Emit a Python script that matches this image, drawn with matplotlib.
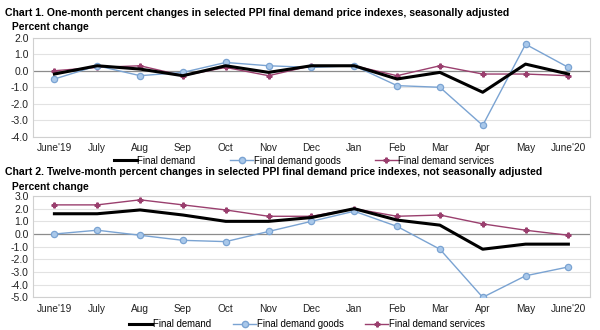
import matplotlib
matplotlib.use("Agg")
import matplotlib.pyplot as plt
from matplotlib.lines import Line2D

plt.rcParams['font.family'] = ['Liberation Sans', 'DejaVu Sans']

months = ["June'19", "July", "Aug", "Sep", "Oct", "Nov", "Dec",
          "Jan", "Feb", "Mar", "Apr", "May", "June'20"]

# Chart 1: one-month percent changes, seasonally adjusted
m_final = [-0.2, 0.3, 0.1, -0.3, 0.3, -0.1, 0.3, 0.3, -0.5, -0.1, -1.3, 0.4, -0.2]
m_goods = [-0.5, 0.3, -0.3, -0.1, 0.5, 0.3, 0.2, 0.3, -0.9, -1.0, -3.3, 1.6, 0.2]
m_services = [0.0, 0.2, 0.3, -0.3, 0.2, -0.3, 0.3, 0.3, -0.3, 0.3, -0.2, -0.2, -0.3]

# Chart 2: twelve-month percent changes, not seasonally adjusted
y_final = [1.6, 1.6, 1.9, 1.5, 1.0, 1.0, 1.3, 2.0, 1.1, 0.7, -1.2, -0.8, -0.8]
y_goods = [0.0, 0.3, -0.1, -0.5, -0.6, 0.2, 1.0, 1.8, 0.6, -1.2, -5.0, -3.3, -2.6]
y_services = [2.3, 2.3, 2.7, 2.3, 1.9, 1.4, 1.4, 2.0, 1.4, 1.5, 0.8, 0.3, -0.1]

series_names = ["Final demand", "Final demand goods", "Final demand services"]
c_black = "#000000"
c_blue = "#7AA3D2"
c_blue_fill = "#A9C8EA"
c_purple = "#9A3F6E"

fig = plt.figure(figsize=(6.0, 3.3), dpi=100)


def draw_panel(ax, final, goods, services, ylo, yhi):
    x = list(range(len(months)))
    ax.plot(x, services, color=c_purple, lw=1.0, marker='P', ms=3.5,
            mfc=c_purple, mec=c_purple, zorder=3)
    ax.plot(x, goods, color=c_blue, lw=1.0, marker='o', ms=4.5,
            mfc=c_blue_fill, mec=c_blue, mew=0.9, zorder=4)
    ax.plot(x, final, color=c_black, lw=2.2, zorder=5)
    ax.set_xlim(-0.5, len(months) - 0.5)
    ax.set_ylim(ylo, yhi)
    ticks = list(range(int(ylo), int(yhi) + 1))
    ax.set_yticks(ticks)
    ax.set_yticklabels([f"{t:.1f}" for t in ticks], fontsize=7.5)
    ax.set_xticks(x)
    ax.set_xticklabels(months, fontsize=7.3)
    ax.tick_params(axis='y', length=0, pad=3, colors='#222222')
    ax.tick_params(axis='x', length=0, pad=4.5, colors='#222222')
    for t in ticks:
        if t == 0:
            ax.axhline(0, color='#8C8C8C', lw=0.9, zorder=1)
        else:
            ax.axhline(t, color='#E2E2E2', lw=0.8, zorder=1)
    for s in ax.spines.values():
        s.set_color('#D0D0D0')
        s.set_linewidth(0.8)


ax1 = fig.add_axes([0.055, 0.585, 0.928, 0.301])
draw_panel(ax1, m_final, m_goods, m_services, -4, 2)
ax2 = fig.add_axes([0.055, 0.099, 0.928, 0.307])
draw_panel(ax2, y_final, y_goods, y_services, -5, 3)

fig.text(0.008, 0.962, "Chart 1. One-month percent changes in selected PPI final demand price indexes, seasonally adjusted",
         fontsize=7.6, fontweight='bold', va='center', ha='left')
fig.text(0.02, 0.918, "Percent change", fontsize=7.4, fontweight='bold', va='center', ha='left')
fig.text(0.008, 0.478, "Chart 2. Twelve-month percent changes in selected PPI final demand price indexes, not seasonally adjusted",
         fontsize=7.6, fontweight='bold', va='center', ha='left')
fig.text(0.02, 0.434, "Percent change", fontsize=7.4, fontweight='bold', va='center', ha='left')

handles = [
    Line2D([], [], color=c_black, lw=2.2),
    Line2D([], [], color=c_blue, lw=1.0, marker='o', ms=4.5, mfc=c_blue_fill, mec=c_blue),
    Line2D([], [], color=c_purple, lw=1.0, marker='P', ms=3.5, mfc=c_purple, mec=c_purple),
]
for xc, yc, gap in ((0.507, 0.513, 3.6), (0.512, 0.018, 2.3)):
    fig.legend(handles, series_names, loc='center', bbox_to_anchor=(xc, yc),
               ncol=3, frameon=False, fontsize=6.9, handlelength=2.4,
               handletextpad=0.05, columnspacing=gap, borderaxespad=0,
               borderpad=0)

fig.savefig("out.png", dpi=100)
